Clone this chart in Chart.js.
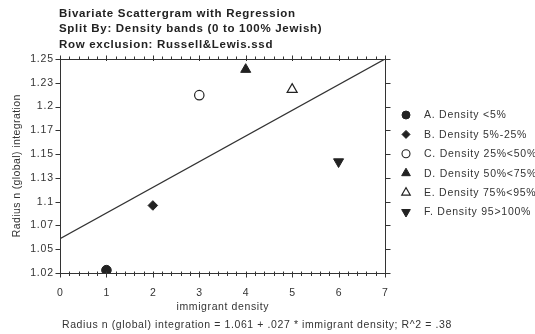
<!DOCTYPE html>
<html>
<head>
<meta charset="utf-8">
<script src="https://cdn.jsdelivr.net/npm/chart.js@4.4.1/dist/chart.umd.min.js"></script>
<style>
  html, body { margin: 0; padding: 0; background: #fff; }
  #wrap { width: 535px; height: 334px; position: relative; }
</style>
</head>
<body>
<div id="wrap"><canvas id="c" width="535" height="334"></canvas></div>
<script>
// ---- data ----
const titleLines = [
  'Bivariate Scattergram with Regression',
  'Split By: Density bands (0 to 100% Jewish)',
  'Row exclusion: Russell&Lewis.ssd'
];
const seriesNames = [
  'A. Density <5%',
  'B. Density 5%-25%',
  'C. Density 25%<50%',
  'D. Density 50%<75%',
  'E. Density 75%<95%',
  'F. Density 95>100%'
];
const immigrantDensity = [1, 2, 3, 4, 5, 6];
const radiusIntegration = [1.028, 1.096, 1.212, 1.239, 1.218, 1.142];
const xTickValues = [0, 1, 2, 3, 4, 5, 6, 7];
const xTickLabels = ['0', '1', '2', '3', '4', '5', '6', '7'];
const yTickValues = [1.025, 1.05, 1.075, 1.1, 1.125, 1.15, 1.175, 1.2, 1.225, 1.25];
const yTickLabels = ['1.02', '1.05', '1.07', '1.1', '1.13', '1.15', '1.17', '1.2', '1.23', '1.25'];
const fitIntercept = 1.061;
const fitSlope = 0.027;
const xTitle = 'immigrant density';
const yTitle = 'Radius n (global) integration';
const footnote = 'Radius n (global) integration = 1.061 + .027 * immigrant density; R^2 = .38';

// ---- marker styles per band ----
const INK = '#222';
const markerStyles = [
  { style: 'circle',   filled: true,  radius: 4.8, rotation: 0 },
  { style: 'rectRot',  filled: true,  radius: 4.8, rotation: 0 },
  { style: 'circle',   filled: false, radius: 4.7, rotation: 0 },
  { style: 'triangle', filled: true,  radius: 5.8, rotation: 0 },
  { style: 'triangle', filled: false, radius: 5.8, rotation: 0 },
  { style: 'triangle', filled: true,  radius: 5.8, rotation: 180 }
];

const FONT = "'Liberation Sans', Arial, sans-serif";

const datasets = seriesNames.map((name, i) => {
  const m = markerStyles[i];
  return {
    type: 'scatter',
    label: name,
    data: [{ x: immigrantDensity[i], y: radiusIntegration[i] }],
    pointStyle: m.style,
    pointRotation: m.rotation,
    pointRadius: m.radius,
    pointBackgroundColor: m.filled ? INK : '#fff',
    pointBorderColor: INK,
    pointBorderWidth: m.filled ? 1 : 1.2
  };
});

// regression line from the fitted equation
const fitXs = [xTickValues[0], xTickValues[xTickValues.length - 1]];
datasets.push({
  type: 'line',
  label: 'fit',
  data: fitXs.map(x => ({ x, y: fitIntercept + fitSlope * x })),
  borderColor: '#333',
  borderWidth: 1.2,
  pointRadius: 0,
  fill: false
});

// text helper with a little tracking, like the original print output
function spacedText(ctx, text, x, y, font, align, spacing) {
  ctx.save();
  ctx.font = font;
  ctx.textBaseline = 'middle';
  if ('letterSpacing' in ctx) {
    ctx.letterSpacing = spacing + 'px';
    const w = ctx.measureText(text).width - spacing;
    let sx = x;
    if (align === 'center') sx = x - w / 2;
    else if (align === 'right') sx = x - w;
    ctx.textAlign = 'left';
    ctx.fillText(text, sx, y);
  } else {
    const w0 = ctx.measureText(text).width;
    const k = (w0 + spacing * (text.length - 1)) / w0;
    const w = w0 * k;
    let sx = x;
    if (align === 'center') sx = x - w / 2;
    else if (align === 'right') sx = x - w;
    ctx.translate(sx, y);
    ctx.scale(k, 1);
    ctx.textAlign = 'left';
    ctx.fillText(text, 0, 0);
  }
  ctx.restore();
}

// draws a small marker shape for the key on the right
function drawKeyMarker(ctx, m, x, y, r) {
  ctx.save();
  ctx.beginPath();
  if (m.style === 'circle') {
    ctx.arc(x, y, r, 0, Math.PI * 2);
  } else if (m.style === 'rectRot') {
    ctx.moveTo(x, y - r); ctx.lineTo(x + r, y); ctx.lineTo(x, y + r); ctx.lineTo(x - r, y);
  } else {
    const dir = m.rotation === 180 ? -1 : 1;
    const w = r * Math.sqrt(3) / 2;
    ctx.moveTo(x, y - dir * r);
    ctx.lineTo(x + w, y + dir * r / 2);
    ctx.lineTo(x - w, y + dir * r / 2);
  }
  ctx.closePath();
  ctx.lineWidth = m.filled ? 1 : 1.1;
  ctx.strokeStyle = INK;
  ctx.fillStyle = m.filled ? INK : '#fff';
  ctx.fill();
  ctx.stroke();
  ctx.restore();
}

const framePlugin = {
  id: 'frameAndText',
  afterDraw(chart) {
    const ctx = chart.ctx;
    const xs = chart.scales.x, ys = chart.scales.y;
    const L = xs.left, R = xs.right, T = ys.top, B = ys.bottom;
    ctx.save();
    ctx.strokeStyle = '#333';
    ctx.lineWidth = 1;
    // frame
    ctx.strokeRect(Math.round(L) + 0.5, Math.round(T) + 0.5, Math.round(R - L), Math.round(B - T));
    // x tick marks (major + minor) on bottom and top edges
    ctx.beginPath();
    for (let k = 0; k <= 35; k++) {
      const v = k / 5;
      const px = Math.round(xs.getPixelForValue(v)) + 0.5;
      const major = k % 5 === 0;
      const b = Math.round(B) + 0.5, t = Math.round(T) + 0.5;
      ctx.moveTo(px, b - 2); ctx.lineTo(px, b + (major ? 4 : 2.5));
      ctx.moveTo(px, t + (major ? 1.5 : 0.5)); ctx.lineTo(px, t - (major ? 4 : 3));
    }
    // y tick marks on left and right edges
    yTickValues.forEach(v => {
      const py = Math.round(ys.getPixelForValue(v)) + 0.5;
      const l = Math.round(L) + 0.5, r = Math.round(R) + 0.5;
      ctx.moveTo(l - 5, py); ctx.lineTo(l, py);
      ctx.moveTo(r, py); ctx.lineTo(r + 5, py);
    });
    ctx.stroke();

    const body = '10.5px ' + FONT;
    ctx.fillStyle = '#333';
    // tick labels
    xTickValues.forEach((v, i) => spacedText(ctx, xTickLabels[i], xs.getPixelForValue(v), 293, body, 'center', 0.6));
    yTickValues.forEach((v, i) => spacedText(ctx, yTickLabels[i], 53, ys.getPixelForValue(v), body, 'right', 0.8));

    // titles
    ctx.fillStyle = '#222';
    titleLines.forEach((s, i) => spacedText(ctx, s, 59, 13.5 + i * 15.5, 'bold 11.5px ' + FONT, 'left', 0.7));

    // axis titles and footnote
    ctx.fillStyle = '#333';
    spacedText(ctx, xTitle, (L + R) / 2, 307, body, 'center', 0.6);
    spacedText(ctx, footnote, 62, 325, body, 'left', 0.6);
    ctx.save();
    ctx.translate(17, (T + B) / 2);
    ctx.rotate(-Math.PI / 2);
    spacedText(ctx, yTitle, 0, 0, body, 'center', 0.4);
    ctx.restore();

    // key
    seriesNames.forEach((name, i) => {
      const y = 115 + i * 19.4;
      drawKeyMarker(ctx, markerStyles[i], 406, y, markerStyles[i].style === 'triangle' ? 5 : 4);
      ctx.fillStyle = '#333';
      spacedText(ctx, name, 424, y + 0.5, body, 'left', 0.75);
    });
    ctx.restore();
  }
};

new Chart(document.getElementById('c'), {
  data: { datasets },
  options: {
    responsive: false,
    animation: false,
    devicePixelRatio: 1,
    layout: { padding: { top: 59, right: 150, left: 0, bottom: 0 } },
    plugins: { legend: { display: false }, tooltip: { enabled: false }, title: { display: false } },
    scales: {
      x: {
        type: 'linear',
        min: xTickValues[0],
        max: xTickValues[xTickValues.length - 1],
        afterFit(s) { s.height = 61; },
        afterBuildTicks(s) { s.ticks = xTickValues.map(v => ({ value: v })); },
        ticks: { display: false },
        grid: { display: false, drawTicks: false, tickLength: 0 },
        border: { display: false }
      },
      y: {
        type: 'linear',
        min: yTickValues[0],
        max: yTickValues[yTickValues.length - 1],
        afterFit(s) { s.width = 60; },
        afterBuildTicks(s) { s.ticks = yTickValues.map(v => ({ value: v })); },
        ticks: { display: false },
        grid: { display: false, drawTicks: false, tickLength: 0 },
        border: { display: false }
      }
    }
  },
  plugins: [framePlugin]
});
</script>
</body>
</html>
